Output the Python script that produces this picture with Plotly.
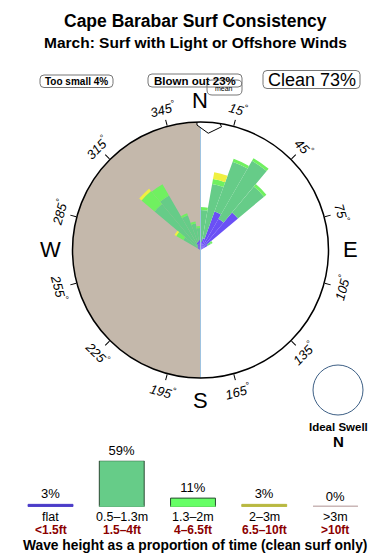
import math
import plotly.graph_objects as go

W, H = 390, 560
FONT = "Liberation Sans, Arial, sans-serif"

# ---------------- data ----------------
title = "Cape Barabar Surf Consistency"
subtitle = "March: Surf with Light or Offshore Winds"
too_small_pct, blown_out_pct, clean_pct = 4, 23, 73

# direction bins (degrees, 10-degree wide) and stacked layer thicknesses (rose radius units)
bin_dirs = [5, 15, 25, 35, 45, 55, 305, 315, 325, 335, 345, 355]
layer_flat = [8, 12, 41, 36, 49, 8, 3, 4, 5, 8, 9, 10]
layer_small = [32, 55, 53, 67, 34, 4, 17, 56, 58, 29, 18, 12]
layer_mid = [3, 5, 3, 3, 3, 2, 8, 17, 13, 2, 2, 2]
layer_big = [0, 7, 0, 0, 0, 0, 2, 3, 0, 0, 0, 0]
rose_max = 128

angle_ticks = [15, 45, 75, 105, 135, 165, 195, 225, 255, 285, 315, 345]
compass = {"N": 0, "E": 90, "S": 180, "W": 270}

# swell arrow outline (radius, angle)
arrow_r = [130, 125, 117, 125, 131]
arrow_t = [-1.6, -1.6, 3.8, 9.7, 7.8]

# wave-height distribution
wave_pct = [3, 59, 11, 3, 0]
wave_m = ["flat", "0.5–1.3m", "1.3–2m", "2–3m", ">3m"]
wave_ft = ["<1.5ft", "1.5–4ft", "4–6.5ft", "6.5–10ft", ">10ft"]
caption = "Wave height as a proportion of time (clean surf only)"
ideal_swell = "N"

# ---------------- styles ----------------
rose_colors = ["#6a50f5", "#66cc88", "#70f060", "#f0f040"]
bar_colors = ["#4b3cc8", "#66cc88", "#66ff66", "#b8b840", "#c8b4b4"]
bar_lines = ["#4b3cc8", "#2a4a33", "#2a4a33", "#b8b840", "#c8b4b4"]

cx, cy, R = 200.5, 250.0, 128.0


def px(x):
    return x / W


def py(y):
    return 1 - y / H


def polar_xy(r, theta):
    t = math.radians(theta)
    return cx + r * math.sin(t), cy - r * math.cos(t)


fig = go.Figure()

# west-half shading
fig.add_trace(go.Barpolar(r=[rose_max], theta=[270], width=[180], marker=dict(color="#c4b8ab", line=dict(width=0)),
                          hoverinfo="skip", showlegend=False))
# N-S line
fig.add_trace(go.Scatterpolar(r=[rose_max, 0, rose_max], theta=[0, 0, 180], mode="lines",
                              line=dict(color="#9fc3e0", width=1), hoverinfo="skip", showlegend=False))
for layer, col in zip([layer_flat, layer_small, layer_mid, layer_big], rose_colors):
    fig.add_trace(go.Barpolar(r=layer, theta=bin_dirs, width=[10] * len(bin_dirs),
                              marker=dict(color=col, line=dict(width=0)), showlegend=False))
# swell arrow
fig.add_trace(go.Scatterpolar(r=arrow_r + arrow_r[:1], theta=arrow_t + arrow_t[:1], mode="lines", fill="toself",
                              fillcolor="white", line=dict(color="black", width=1), hoverinfo="skip",
                              showlegend=False))

fig.update_layout(
    polar=dict(
        domain=dict(x=[px(cx - R), px(cx + R)], y=[py(cy + R), py(cy - R)]),
        bgcolor="rgba(0,0,0,0)",
        barmode="stack",
        bargap=0,
        radialaxis=dict(visible=False, range=[0, rose_max]),
        angularaxis=dict(rotation=90, direction="clockwise", showline=True, linecolor="black", linewidth=1.5,
                         showgrid=False, ticks="outside", ticklen=6, tickcolor="black", tickwidth=1,
                         tickvals=angle_ticks, showticklabels=False),
    )
)

ann = []
# angle labels
for a in angle_ticks:
    x, y = polar_xy(146, a)
    rot = a if a <= 90 else (a - 180 if a < 270 else a - 360)
    ann.append(dict(x=px(x), y=py(y), xref="paper", yref="paper", text=f"{a}<sup>°</sup>", showarrow=False,
                    textangle=rot, font=dict(family=FONT, size=13, color="black", style="italic"),
                    xanchor="center", yanchor="middle"))
for lab, a in compass.items():
    x, y = polar_xy(150, a)
    ann.append(dict(x=px(x), y=py(y), xref="paper", yref="paper", text=lab, showarrow=False,
                    font=dict(family=FONT, size=22, color="black"), xanchor="center", yanchor="middle"))

# titles
ann.append(dict(x=0.5, y=py(21), xref="paper", yref="paper", text=f"<b>{title}</b>", showarrow=False,
                font=dict(family=FONT, size=17.5, color="black"), xanchor="center", yanchor="middle"))
ann.append(dict(x=0.5, y=py(42.5), xref="paper", yref="paper", text=f"<b>{subtitle}</b>", showarrow=False,
                font=dict(family=FONT, size=15.5, color="black"), xanchor="center", yanchor="middle"))

shapes = []


def rbox(x0, y0, x1, y1, rr=4):
    p = (f"M {px(x0 + rr)} {py(y0)} L {px(x1 - rr)} {py(y0)} Q {px(x1)} {py(y0)} {px(x1)} {py(y0 + rr)} "
         f"L {px(x1)} {py(y1 - rr)} Q {px(x1)} {py(y1)} {px(x1 - rr)} {py(y1)} "
         f"L {px(x0 + rr)} {py(y1)} Q {px(x0)} {py(y1)} {px(x0)} {py(y1 - rr)} "
         f"L {px(x0)} {py(y0 + rr)} Q {px(x0)} {py(y0)} {px(x0 + rr)} {py(y0)} Z")
    return dict(type="path", path=p, xref="paper", yref="paper", line=dict(color="#777777", width=1),
                fillcolor="rgba(0,0,0,0)", layer="above")


boxes = [
    (40, 75, 113, 87.5, f"<b>Too small {too_small_pct}%</b>", 10),
    (148, 74, 242, 87, f"<b>Blown out {blown_out_pct}%</b>", 11.5),
    (263, 70.5, 360, 88.5, f"Clean {clean_pct}%", 18),
]
for x0, y0, x1, y1, t, fs in boxes:
    shapes.append(rbox(x0, y0, x1, y1))
    ann.append(dict(x=px((x0 + x1) / 2), y=py((y0 + y1) / 2 + 0.5), xref="paper", yref="paper", text=t,
                    showarrow=False, font=dict(family=FONT, size=fs, color="black"), xanchor="center",
                    yanchor="middle"))
shapes.append(rbox(207, 80, 242, 95, 5))
ann.append(dict(x=px(224.5), y=py(88), xref="paper", yref="paper", text="mean", showarrow=False,
                font=dict(family=FONT, size=7, color="black"), xanchor="center", yanchor="middle"))

# ideal swell
shapes.append(dict(type="circle", xref="paper", yref="paper", x0=px(313), x1=px(363), y0=py(415), y1=py(365),
                   line=dict(color="#3d5f85", width=1)))
ann.append(dict(x=px(338), y=py(427), xref="paper", yref="paper", text="<b>Ideal Swell</b>", showarrow=False,
                font=dict(family=FONT, size=11.5, color="black"), xanchor="center", yanchor="middle"))
ann.append(dict(x=px(338), y=py(441), xref="paper", yref="paper", text=f"<b>{ideal_swell}</b>", showarrow=False,
                font=dict(family=FONT, size=15, color="black"), xanchor="center", yanchor="middle"))

# wave height bars
xs = list(range(len(wave_pct)))
bw = 0.63
fig.add_trace(go.Bar(x=xs, y=wave_pct, width=bw, marker=dict(color=bar_colors, line=dict(color=bar_lines, width=1)),
                     text=[f"{v}%" for v in wave_pct], textposition="outside", cliponaxis=False,
                     textfont=dict(family=FONT, size=13, color="black"), constraintext="none",
                     xaxis="x", yaxis="y", showlegend=False))
for i, v in enumerate(wave_pct):
    shapes.append(dict(type="line", xref="x", yref="y", x0=i - bw / 2, x1=i + bw / 2, y0=0, y1=0,
                       line=dict(color=bar_colors[i], width=2.5)))
    ann.append(dict(x=i, y=py(517), xref="x", yref="paper", text=wave_m[i], showarrow=False,
                    font=dict(family=FONT, size=12.5, color="black"), xanchor="center", yanchor="middle"))
    ann.append(dict(x=i, y=py(530), xref="x", yref="paper", text=f"<b>{wave_ft[i]}</b>", showarrow=False,
                    font=dict(family=FONT, size=12, color="#8b0000"), xanchor="center", yanchor="middle"))
ann.append(dict(x=0.5, y=py(545.5), xref="paper", yref="paper", text=f"<b>{caption}</b>", showarrow=False,
                font=dict(family=FONT, size=13.8, color="black"), xanchor="center", yanchor="middle"))

fig.update_layout(
    width=W, height=H, margin=dict(l=0, r=0, t=0, b=0), paper_bgcolor="white", plot_bgcolor="rgba(0,0,0,0)",
    xaxis=dict(domain=[px(14.9), px(371.1)], range=[-0.5, 4.5], visible=False, fixedrange=True),
    yaxis=dict(domain=[py(506.7), py(460.7)], range=[0, 59], visible=False, fixedrange=True),
    annotations=ann, shapes=shapes, bargap=0.37,
)

fig.write_html("out.html")
